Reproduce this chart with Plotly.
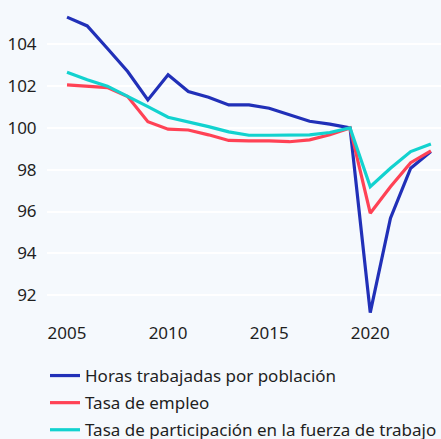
import plotly.graph_objects as go

years = list(range(2005, 2024))
horas = [105.3, 104.88, 103.8, 102.7, 101.34, 102.54, 101.74, 101.47, 101.1, 101.1,
         100.94, 100.62, 100.32, 100.18, 100.0, 91.16, 95.68, 98.07, 98.87]
empleo = [102.06, 101.98, 101.93, 101.5, 100.3, 99.94, 99.9, 99.67, 99.4, 99.38,
          99.38, 99.34, 99.43, 99.67, 100.0, 95.92, 97.19, 98.34, 98.9]
particip = [102.66, 102.3, 102.0, 101.53, 101.02, 100.51, 100.3, 100.06, 99.81, 99.65,
            99.65, 99.65, 99.67, 99.78, 100.0, 97.19, 98.07, 98.87, 99.23]

names = ["Horas trabajadas por población", "Tasa de empleo",
         "Tasa de participación en la fuerza de trabajo"]
colors = ["#2130b8", "#ff4255", "#12d2cf"]
ytick_vals = [92, 94, 96, 98, 100, 102, 104]
xtick_vals = [2005, 2010, 2015, 2020]

fig = go.Figure()
for i, (n, vals, c) in enumerate(zip(names, [horas, empleo, particip], colors)):
    fig.add_trace(go.Scatter(x=years, y=vals, name=n, mode="lines", legendgroup=f"g{i}",
                             line=dict(color=c, width=3.2)))

bg = "#f5f9fd"
fig.update_layout(
    width=441, height=439,
    margin=dict(l=47, r=0, t=0, b=124, autoexpand=False),
    paper_bgcolor=bg, plot_bgcolor=bg,
    font=dict(family="Noto Sans", size=17, color="#1f1f1f"),
    showlegend=True,
    legend=dict(orientation="v", xref="container", yref="container",
                x=45 / 441, xanchor="left", y=1 - 358 / 439, yanchor="top",
                bgcolor="rgba(0,0,0,0)", font=dict(size=17), tracegroupgap=2,
                itemwidth=30),
    xaxis=dict(range=[2004.01, 2023.5], tickvals=xtick_vals, showgrid=False,
               zeroline=False, showline=False, ticks="outside", ticklen=3,
               tickcolor="rgba(0,0,0,0)", automargin=False),
    yaxis=dict(range=[91.05, 106.12], tickvals=ytick_vals, showgrid=True,
               gridcolor="#ffffff", gridwidth=2, zeroline=False, showline=False,
               ticks="outside", ticklen=6, tickcolor="rgba(0,0,0,0)",
               automargin=False),
)
fig.write_html("out.html", config={"displayModeBar": False},
               post_script="document.body.style.margin='0';"
               "document.body.style.background='#f5f9fd';")
